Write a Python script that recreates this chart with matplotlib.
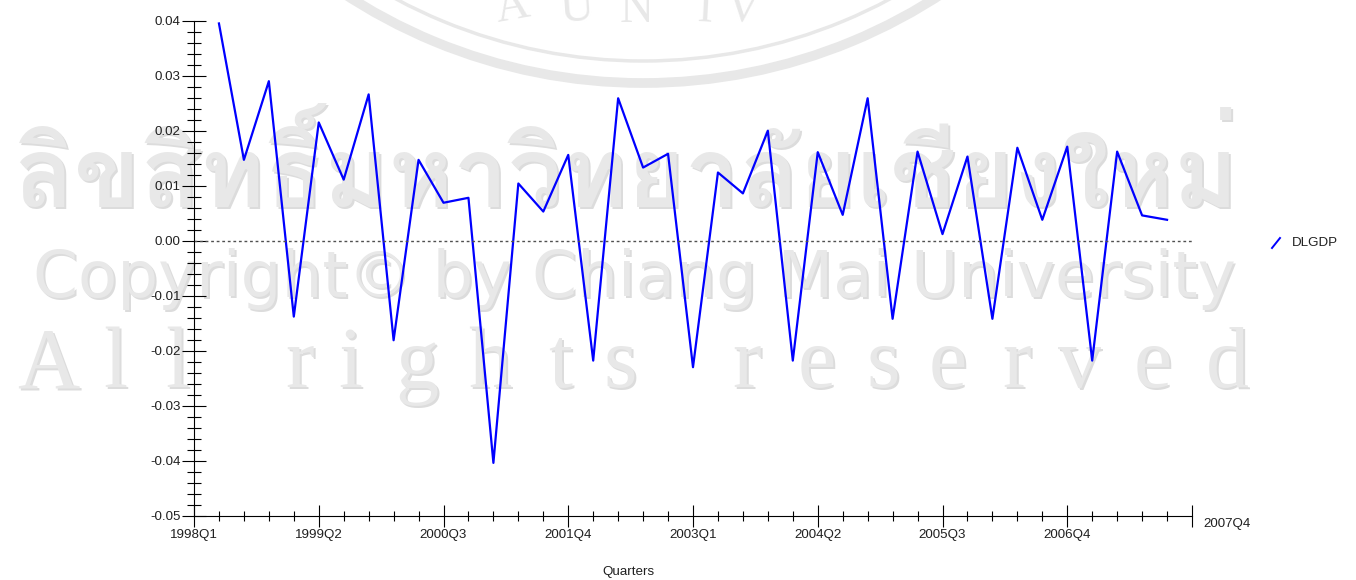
import numpy as np
import matplotlib
matplotlib.use('Agg')
import matplotlib.pyplot as plt
from matplotlib import font_manager
from matplotlib.ft2font import FT2Font
from matplotlib.patches import Arc
from matplotlib.lines import Line2D
from matplotlib.ticker import FixedLocator, FixedFormatter, MultipleLocator

plt.rcParams['font.family'] = ['Liberation Sans', 'DejaVu Sans']
plt.rcParams['axes.unicode_minus'] = False

# DLGDP: quarterly log difference of GDP, 1998Q2 - 2007Q4
quarter_index = np.arange(1, 40)
dlgdp = [0.0395, 0.0147, 0.0290, -0.0138, 0.0215, 0.0111, 0.0266, -0.0181,
         0.0147, 0.0069, 0.0078, -0.0404, 0.0104, 0.0053, 0.0156, -0.0218,
         0.0259, 0.0133, 0.0158, -0.0230, 0.0124, 0.0086, 0.0200, -0.0218,
         0.0161, 0.0047, 0.0259, -0.0142, 0.0162, 0.0012, 0.0153, -0.0142,
         0.0169, 0.0038, 0.0171, -0.0218, 0.0162, 0.0046, 0.0038]

xtick_pos = [0, 5, 10, 15, 20, 25, 30, 35, 40]
xtick_labels = ['1998Q1', '1999Q2', '2000Q3', '2001Q4', '2003Q1',
                '2004Q2', '2005Q3', '2006Q4', '']
end_label = '2007Q4'
ytick_pos = [0.04, 0.03, 0.02, 0.01, 0.00, -0.01, -0.02, -0.03, -0.04, -0.05]

FS = 9.6
TXT = '#202020'

W, H = 1356, 580
fig = plt.figure(figsize=(W / 100, H / 100), dpi=100)
fig.patch.set_facecolor('white')

# background layer in pixel coordinates for the watermark
bg = fig.add_axes([0, 0, 1, 1], zorder=0)
bg.set_xlim(0, W)
bg.set_ylim(H, 0)
bg.axis('off')

WM = '#e8e8e8'
SH = '#dcdcdc'
renderer = fig.canvas.get_renderer()


def fit_text(x0, x1, y, s, family, weight='normal', size=40):
    # draw text with a soft shadow, scaled so it spans x0..x1
    t = bg.text(x0, y, s, fontsize=size, family=family, weight=weight,
                color=WM, va='baseline', ha='left', zorder=2)
    w = t.get_window_extent(renderer=renderer).width
    size = size * (x1 - x0) / w
    t.set_fontsize(size)
    bg.text(x0 + 2, y + 2, s, fontsize=size, family=family, weight=weight,
            color=SH, va='baseline', ha='left', zorder=1)


def thai_font():
    for f in font_manager.fontManager.ttflist:
        try:
            if ord('ก') in FT2Font(f.fname).get_charmap():
                return f.name
        except Exception:
            pass
    return None


tf = thai_font()
if tf:
    fit_text(15, 1240, 207, 'ลิขสิทธิ์มหาวิทยาลัยเชียงใหม่', [tf], weight='bold')
fit_text(33, 1235, 297, 'Copyright© by Chiang Mai University', ['DejaVu Sans'])

letters = 'Allrightsreserved'
letter_x = [48, 115, 177, 300, 350, 417, 490, 560, 620, 747, 817, 883,
            948, 1017, 1080, 1153, 1227]
for ch, lx in zip(letters, letter_x):
    bg.text(lx + 2, 389, ch, fontsize=62, family='Liberation Serif',
            color=SH, ha='center', va='baseline', zorder=1)
    bg.text(lx, 387, ch, fontsize=62, family='Liberation Serif',
            color=WM, ha='center', va='baseline', zorder=2)

# seal rings at the top
cx, cy = 643, -462
for r, lw in [(545, 7), (523, 2.5)]:
    bg.add_patch(Arc((cx, cy), 2 * r, 2 * r, theta1=0, theta2=360,
                     color=WM, lw=lw, zorder=1))
for ch, lx, rot in [('A', 512, 10), ('U', 577, 4), ('N', 637, 0),
                    ('I', 705, -3), ('V', 742, -5)]:
    bg.text(lx, 22, ch, fontsize=34, family='Liberation Serif', color=WM,
            ha='center', va='baseline', rotation=rot, zorder=2)

# main chart
ax = fig.add_axes([194 / W, 1 - 515.7 / H, 998 / W, 495 / H], zorder=1)
ax.patch.set_alpha(0)
ax.plot(quarter_index, dlgdp, color='#0000ff', lw=1.6, label='DLGDP')
ax.axhline(0, color='#505050', lw=1, ls=(0, (2, 2)))

ax.set_xlim(0, 40)
ax.set_ylim(-0.05, 0.04)
for s in ['top', 'right']:
    ax.spines[s].set_visible(False)
for s in ['left', 'bottom']:
    ax.spines[s].set_linewidth(0.8)
    ax.spines[s].set_color('black')

ax.xaxis.set_major_locator(FixedLocator(xtick_pos))
ax.xaxis.set_major_formatter(FixedFormatter(xtick_labels))
ax.xaxis.set_minor_locator(MultipleLocator(1))
ax.yaxis.set_major_locator(FixedLocator(ytick_pos))
ax.yaxis.set_major_formatter(FixedFormatter([f'{v:.2f}' for v in ytick_pos]))
ax.yaxis.set_minor_locator(MultipleLocator(0.002))

ax.tick_params(axis='y', which='major', direction='inout', length=17,
               width=0.8, labelsize=FS, pad=1.0, colors='black')
ax.tick_params(axis='y', which='minor', direction='inout', length=9.5,
               width=0.8)
ax.tick_params(axis='x', which='major', direction='inout', length=16,
               width=0.8, labelsize=FS, pad=1.5, colors='black')
ax.tick_params(axis='x', which='minor', direction='inout', length=7.5,
               width=0.8)
for lbl in ax.get_xticklabels() + ax.get_yticklabels():
    lbl.set_color(TXT)

ax.text(40.45, -0.0515, end_label, fontsize=FS, color=TXT,
        ha='left', va='center')
fig.text(628 / W, 1 - 572 / H, 'Quarters', fontsize=FS, color=TXT,
         ha='center', va='center')

# legend entry to the right of the plot
bg.add_line(Line2D([1272, 1280], [248, 238], color='#0000ff', lw=1.4))
bg.text(1292, 243, 'DLGDP', fontsize=FS, color=TXT, ha='left',
        va='center')

fig.savefig('out.png', dpi=100)
